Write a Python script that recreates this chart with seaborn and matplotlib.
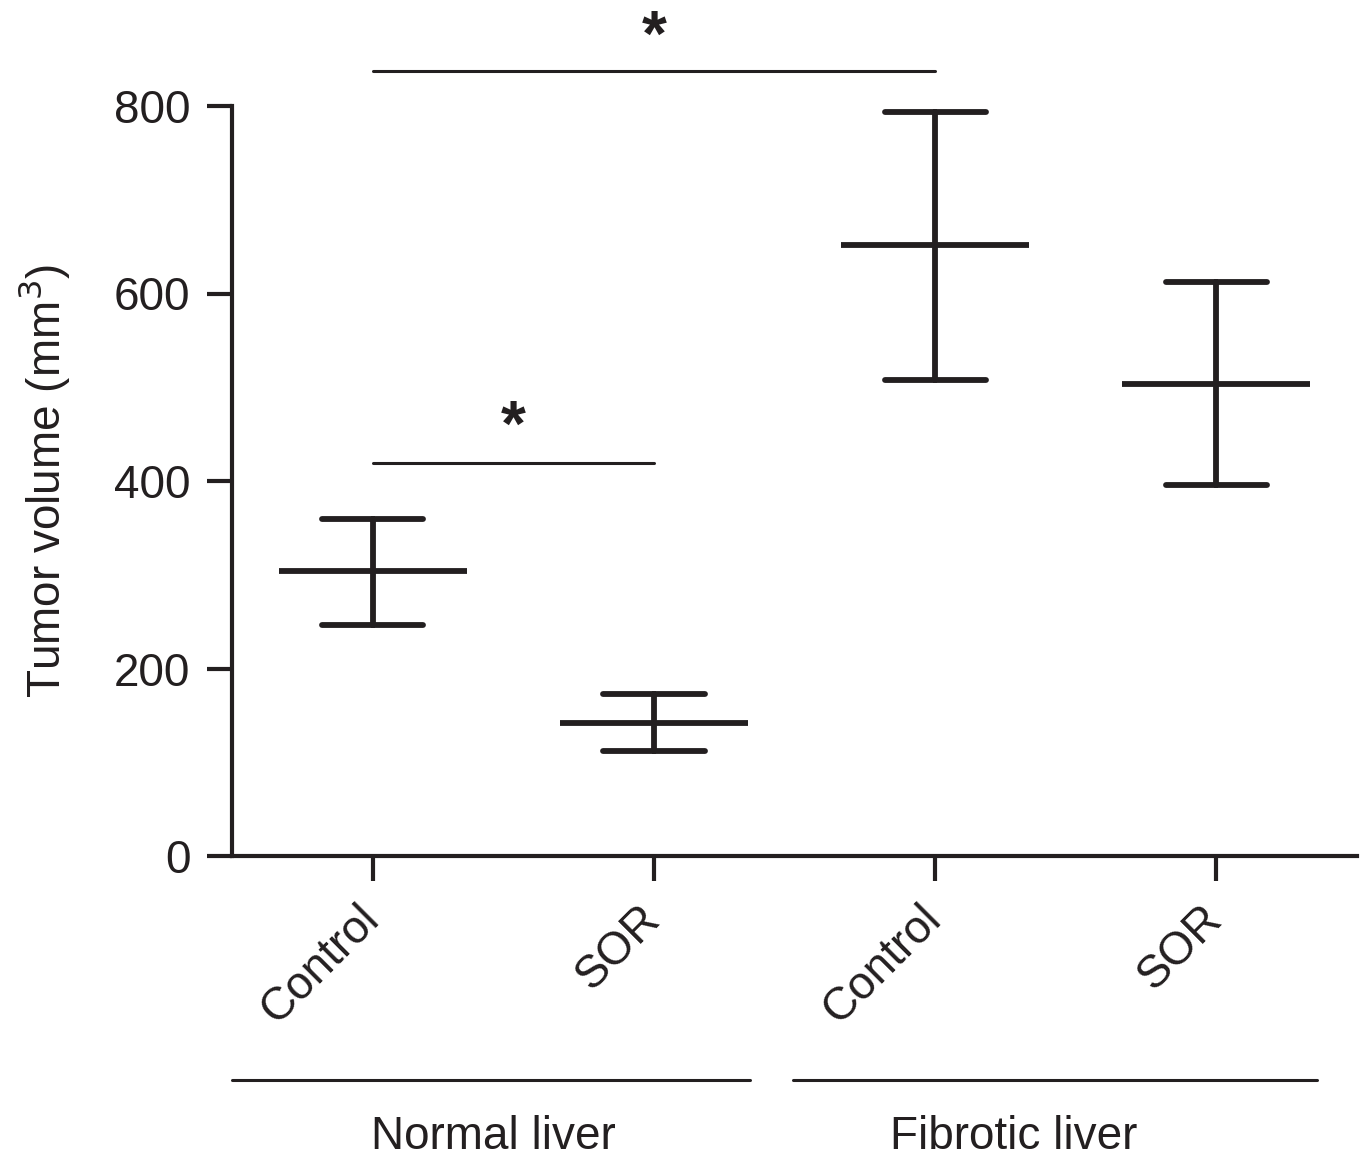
import numpy as np
import pandas as pd
import matplotlib
matplotlib.use("Agg")
import matplotlib.pyplot as plt
import matplotlib.transforms as mtransforms
import seaborn as sns

# data
groups = ["NL Control", "NL SOR", "FL Control", "FL SOR"]
tick_labels = ["Control", "SOR", "Control", "SOR"]
means = [304, 142, 652, 504]
upper = [360, 173, 794, 612]
lower = [246, 112, 508, 396]
liver_labels = ["Normal liver", "Fibrotic liver"]

rows = []
for g, lo, m, hi in zip(groups, lower, means, upper):
    for v in (lo, m, hi):
        rows.append({"group": g, "volume": v})
df = pd.DataFrame(rows)

sns.set_style("ticks")
plt.rcParams['font.family'] = ['Liberation Sans', 'DejaVu Sans']
ink = "#231f20"

fig = plt.figure(figsize=(13.61, 11.59), dpi=100)
ax = fig.add_axes([232 / 1361, 303 / 1159, 1125 / 1361, 750 / 1159])

sns.pointplot(data=df, x="group", y="volume", order=groups,
              estimator=np.median, errorbar=("pi", 100),
              linestyle="none", marker="_", markersize=135,
              markeredgewidth=4.2, color=ink, capsize=0.36,
              err_kws={"linewidth": 4.2, "solid_capstyle": "round"}, ax=ax)

ax.set_xlim(-0.5, 3.5)
ax.set_ylim(0, 800)
ax.set_yticks([0, 200, 400, 600, 800])
ax.set_xticks(range(4))
ax.set_xticklabels(tick_labels, rotation=45, ha="right", rotation_mode="anchor")
ax.set_xlabel("")
ax.set_ylabel("Tumor volume (mm$^3$)", fontsize=33, labelpad=30, color=ink)
ax.tick_params(axis="both", bottom=True, left=True, length=18, width=3.0,
               color=ink, labelsize=33, labelcolor=ink, direction="out")
ax.tick_params(axis="x", pad=6)
ax.tick_params(axis="y", pad=12)
shift = mtransforms.ScaledTranslation(-0.16, -0.07, fig.dpi_scale_trans)
for lab in ax.get_xticklabels():
    lab.set_transform(lab.get_transform() + shift)
for side in ["top", "right"]:
    ax.spines[side].set_visible(False)
for side in ["left", "bottom"]:
    ax.spines[side].set_linewidth(3.0)
    ax.spines[side].set_color(ink)

# significance brackets
ax.plot([0, 2], [837, 837], color=ink, lw=2.2, clip_on=False)
ax.text(1.0, 872, "*", ha="center", va="center", fontsize=46, fontweight="bold",
        color=ink, clip_on=False)
ax.plot([0, 1], [419, 419], color=ink, lw=2.2, clip_on=False)
ax.text(0.5, 456, "*", ha="center", va="center", fontsize=46, fontweight="bold",
        color=ink, clip_on=False)

# group lines below axis
trans = mtransforms.blended_transform_factory(ax.transData, fig.transFigure)
ax.plot([-0.5, 1.343], [0.068, 0.068], color=ink, lw=2.2, transform=trans, clip_on=False)
ax.plot([1.496, 3.357], [0.068, 0.068], color=ink, lw=2.2, transform=trans, clip_on=False)
ax.text(0.43, 0.019, liver_labels[0], ha="center", va="center", fontsize=33,
        color=ink, transform=trans)
ax.text(2.28, 0.019, liver_labels[1], ha="center", va="center", fontsize=33,
        color=ink, transform=trans)

fig.savefig("out.png", dpi=100)
